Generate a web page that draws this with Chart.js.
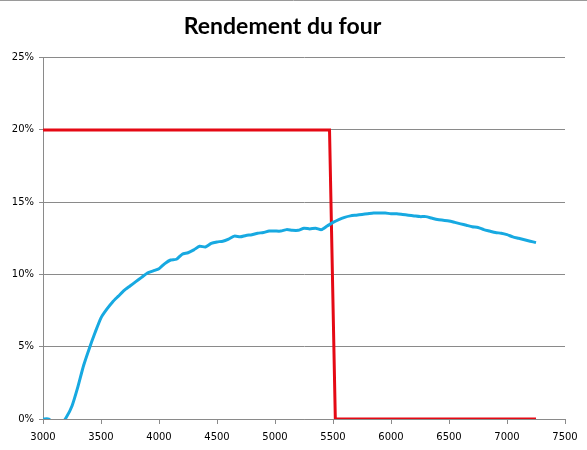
<!DOCTYPE html>
<html>
<head>
<meta charset="utf-8">
<script src="https://cdn.jsdelivr.net/npm/chart.js@4"></script>
<style>
  html, body { margin: 0; padding: 0; background: #fff; }
  #wrap { width: 587px; height: 450px; }
</style>
</head>
<body>
<div id="wrap"><canvas id="fourChart" width="587" height="450"></canvas></div>
<script>
/* data */
var titre = "Rendement du four";

// blue curve: furnace efficiency (%) vs x
var rendX = [3000, 3050, 3100, 3150, 3200, 3250, 3300, 3350, 3400, 3450,
             3500, 3550, 3600, 3650, 3700, 3750, 3800, 3850, 3900, 3950,
             4000, 4050, 4100, 4150, 4200, 4250, 4300, 4350, 4400, 4450,
             4500, 4550, 4600, 4650, 4700, 4750, 4800, 4850, 4900, 4950,
             5000, 5050, 5100, 5150, 5200, 5250, 5300, 5350, 5400, 5450,
             5500, 5550, 5600, 5650, 5700, 5750, 5800, 5850, 5900, 5950,
             6000, 6050, 6100, 6150, 6200, 6250, 6300, 6350, 6400, 6450,
             6500, 6550, 6600, 6650, 6700, 6750, 6800, 6850, 6900, 6950,
             7000, 7050, 7100, 7150, 7200, 7250];
var rendY = [0, 0, -0.4, -0.4, 0.1, 0.9, 2.2, 3.7, 4.9, 6.0,
             7.0, 7.6, 8.1, 8.5, 8.9, 9.2, 9.5, 9.8, 10.1, 10.25,
             10.4, 10.75, 11.0, 11.05, 11.4, 11.5, 11.7, 11.95, 11.9, 12.15,
             12.25, 12.3, 12.45, 12.65, 12.6, 12.7, 12.75, 12.85, 12.9, 13.0,
             13.0, 13.0, 13.1, 13.05, 13.05, 13.2, 13.15, 13.2, 13.1, 13.35,
             13.6, 13.8, 13.95, 14.05, 14.1, 14.15, 14.2, 14.25, 14.25, 14.25,
             14.2, 14.2, 14.15, 14.1, 14.05, 14.0, 14.0, 13.9, 13.8, 13.75,
             13.7, 13.6, 13.5, 13.4, 13.3, 13.25, 13.1, 13.0, 12.9, 12.85,
             12.75, 12.6, 12.5, 12.4, 12.3, 12.2];

// red step line
var seuilX = [3000, 5470, 5520, 7250];
var seuilY = [20, 20, 0, 0];

// axes
var xMin = 3000, xMax = 7500, xStep = 500;
var yMin = 0, yMax = 25, yStep = 5;

function toPoints(xs, ys) {
    var pts = [];
    for (var i = 0; i < xs.length; i++) {
        pts.push({ x: xs[i], y: ys[i] });
    }
    return pts;
}

var gris = '#8a8a8a';

// thin frame line at the very top, like the reference
var topLine = {
    id: 'topLine',
    afterDraw: function(chart) {
        var ctx = chart.ctx;
        ctx.save();
        ctx.strokeStyle = '#9a9a9a';
        ctx.lineWidth = 1;
        ctx.beginPath();
        ctx.moveTo(0, 0.5);
        ctx.lineTo(chart.width, 0.5);
        ctx.stroke();
        ctx.restore();
    }
};

var ctx = document.getElementById('fourChart').getContext('2d');
var fourChart = new Chart(ctx, {
    type: 'line',
    data: {
        datasets: [{
            label: 'Rendement',
            data: toPoints(rendX, rendY),
            borderColor: '#17a9e1',
            borderWidth: 3,
            pointRadius: 0,
            tension: 0.2,
            fill: false
        }, {
            label: 'Seuil',
            data: toPoints(seuilX, seuilY),
            borderColor: '#e50914',
            borderWidth: 3,
            pointRadius: 0,
            tension: 0,
            fill: false
        }]
    },
    options: {
        responsive: false,
        animation: false,
        layout: { padding: { left: 0, right: 22, top: 0, bottom: 0 } },
        plugins: {
            legend: { display: false },
            tooltip: { enabled: false },
            title: {
                display: true,
                text: titre,
                color: '#000',
                font: { family: 'Lato', size: 23, weight: 'bold' },
                padding: { top: 13, bottom: 17 }
            }
        },
        scales: {
            x: {
                type: 'linear',
                min: xMin,
                max: xMax,
                afterFit: function(scale) { scale.height = 31; },
                ticks: {
                    stepSize: xStep,
                    color: '#000',
                    font: { family: 'DejaVu Sans', size: 10 },
                    maxRotation: 0,
                    padding: 7,
                    callback: function(v) { return v; }
                },
                grid: {
                    drawOnChartArea: false,
                    drawTicks: true,
                    tickLength: 5,
                    color: gris
                },
                border: { display: true, color: gris }
            },
            y: {
                min: yMin,
                max: yMax,
                afterFit: function(scale) { scale.width = 43; },
                ticks: {
                    stepSize: yStep,
                    color: '#000',
                    font: { family: 'DejaVu Sans', size: 10 },
                    padding: 5,
                    callback: function(v) { return v + '%'; }
                },
                grid: {
                    color: gris,
                    tickLength: 4
                },
                border: { display: true, color: gris }
            }
        }
    },
    plugins: [topLine]
});
</script>
</body>
</html>
